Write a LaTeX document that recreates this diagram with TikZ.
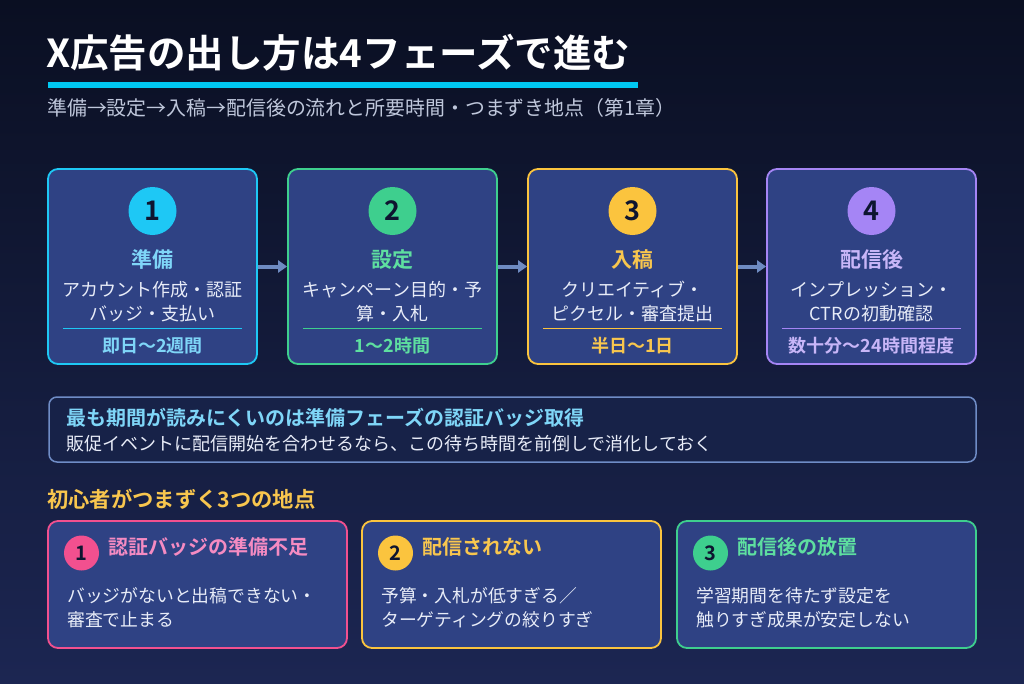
\documentclass[tikz,border=0pt]{standalone}
\usepackage{fontspec}
\setmainfont{Noto Sans CJK JP}[BoldFont={Noto Sans CJK JP Bold}]
\usetikzlibrary{arrows.meta,calc}
\definecolor{bgtop}{HTML}{0A0F22}
\definecolor{bgbot}{HTML}{1C2652}
\definecolor{boxfill}{HTML}{2F4284}
\definecolor{callfill}{HTML}{172248}
\definecolor{ccyan}{HTML}{1EC8F5}
\definecolor{cbar}{HTML}{00C8F2}
\definecolor{cgreen}{HTML}{3ECF8E}
\definecolor{cyellow}{HTML}{FBC43E}
\definecolor{cpurple}{HTML}{A585F5}
\definecolor{cpink}{HTML}{F2508F}
\definecolor{tcyan}{HTML}{7FD6F8}
\definecolor{tgreen}{HTML}{5EDFA0}
\definecolor{tyellow}{HTML}{F8C64E}
\definecolor{tpurple}{HTML}{C8B6F8}
\definecolor{tpink}{HTML}{F58BC2}
\definecolor{txt}{HTML}{E8ECF8}
\definecolor{subtxt}{HTML}{BFC7DB}
\definecolor{arrowc}{HTML}{6E8BC2}
\definecolor{calledge}{HTML}{6F8CC6}
\definecolor{numtxt}{HTML}{0E1530}
\newcommand{\fs}[1]{\fontsize{#1}{#1}\selectfont}
\tikzset{
  txtnode/.style={inner sep=0pt, anchor=base},
  ltxt/.style={inner sep=0pt, anchor=base west},
  phasebox/.style={draw, fill=boxfill, line width=1.8pt, rounded corners=10pt,
    minimum width=209pt, minimum height=195pt, inner sep=0pt},
  tipbox/.style={draw, fill=boxfill, line width=1.8pt, rounded corners=10pt,
    minimum width=299pt, minimum height=127pt, inner sep=0pt},
  numcirc/.style={circle, inner sep=0pt, minimum size=48pt, text=numtxt, font=\fs{27}\bfseries},
  smallcirc/.style={circle, inner sep=0pt, minimum size=35pt, text=numtxt, font=\fs{20}\bfseries},
  flowarrow/.style={draw=arrowc, line width=4pt, -{Triangle[length=9pt,width=12pt]}},
}
\begin{document}
\begin{tikzpicture}[x=1pt,y=-1pt]
\useasboundingbox (0,0) rectangle (1024,683);
\shade[top color=bgtop, bottom color=bgbot] (0,0) rectangle (1024,683);
% title
\node[ltxt, text=white, font=\fs{38.5}\bfseries] (title) at (46,67) {X広告の出し方は4フェーズで進む};
\fill[cbar] (48,82) rectangle (638,88);
\node[ltxt, text=subtxt, font=\fs{19.9}] (sub) at (47,115) {準備→設定→入稿→配信後の流れと所要時間・つまずき地点（第1章）};
% phases
\foreach \i/\xl/\bc/\tc/\ti/\la/\lb/\du in {
  1/48/ccyan/tcyan/準備/アカウント作成・認証/バッジ・支払い/即日〜2週間,
  2/288/cgreen/tgreen/設定/キャンペーン目的・予/算・入札/1〜2時間,
  3/528/cyellow/tyellow/入稿/クリエイティブ・/ピクセル・審査提出/半日〜1日,
  4/767/cpurple/tpurple/配信後/インプレッション・/CTRの初動確認/数十分〜24時間程度}{
  \node[phasebox, draw=\bc] (p\i) at (\xl+104.5,266.5) {};
  \node[numcirc, fill=\bc] (n\i) at (\xl+104.5,211) {\i};
  \node[txtnode, text=\tc, font=\fs{21}\bfseries] (t\i) at (\xl+104.5,267) {\ti};
  \node[txtnode, text=txt, font=\fs{18}] (la\i) at (\xl+104.5,296.5) {\la};
  \node[txtnode, text=txt, font=\fs{18}] (lb\i) at (\xl+104.5,320.5) {\lb};
  \draw[\bc, line width=1pt] ($(p\i.south west)+(16,-36)$) -- ($(p\i.south east)+(-16,-36)$);
  \node[txtnode, text=\tc, font=\fs{18}\bfseries] (d\i) at (\xl+104.5,352.5) {\du};
}
\draw[flowarrow] (p1.east) -- (p2.west);
\draw[flowarrow] (p2.east) -- (p3.west);
\draw[flowarrow] (p3.east) -- (p4.west);
% callout
\node[draw=calledge, fill=callfill, line width=1.5pt, rounded corners=8pt,
  minimum width=927pt, minimum height=65pt, inner sep=0pt] (cb) at (512.5,429.5) {};
\node[ltxt, text=tcyan, font=\fs{20}\bfseries] (cb1) at (66,425) {最も期間が読みにくいのは準備フェーズの認証バッジ取得};
\node[ltxt, text=txt, font=\fs{18}] (cb2) at (66,450.5) {販促イベントに配信開始を合わせるなら、この待ち時間を前倒しで消化しておく};
% section
\node[ltxt, text=tyellow, font=\fs{21.3}\bfseries] (sec) at (47,507) {初心者がつまずく3つの地点};
\foreach \i/\xl/\bc/\tc/\ti/\la/\lb in {
  1/48/cpink/tpink/認証バッジの準備不足/バッジがないと出稿できない・/審査で止まる,
  2/362/cyellow/tyellow/配信されない/予算・入札が低すぎる／/ターゲティングの絞りすぎ,
  3/677/cgreen/tgreen/配信後の放置/学習期間を待たず設定を/触りすぎ成果が安定しない}{
  \node[tipbox, draw=\bc] (b\i) at (\xl+149.5,584.5) {};
  \node[smallcirc, fill=\bc] (bn\i) at (\xl+33.5,553) {\i};
  \node[ltxt, text=\tc, font=\fs{20}\bfseries] (bt\i) at (\xl+60,554.5) {\ti};
  \node[ltxt, text=txt, font=\fs{17.8}] (bla\i) at (\xl+19,602.5) {\la};
  \node[ltxt, text=txt, font=\fs{17.8}] (blb\i) at (\xl+19,626.5) {\lb};
}
\end{tikzpicture}
\end{document}
